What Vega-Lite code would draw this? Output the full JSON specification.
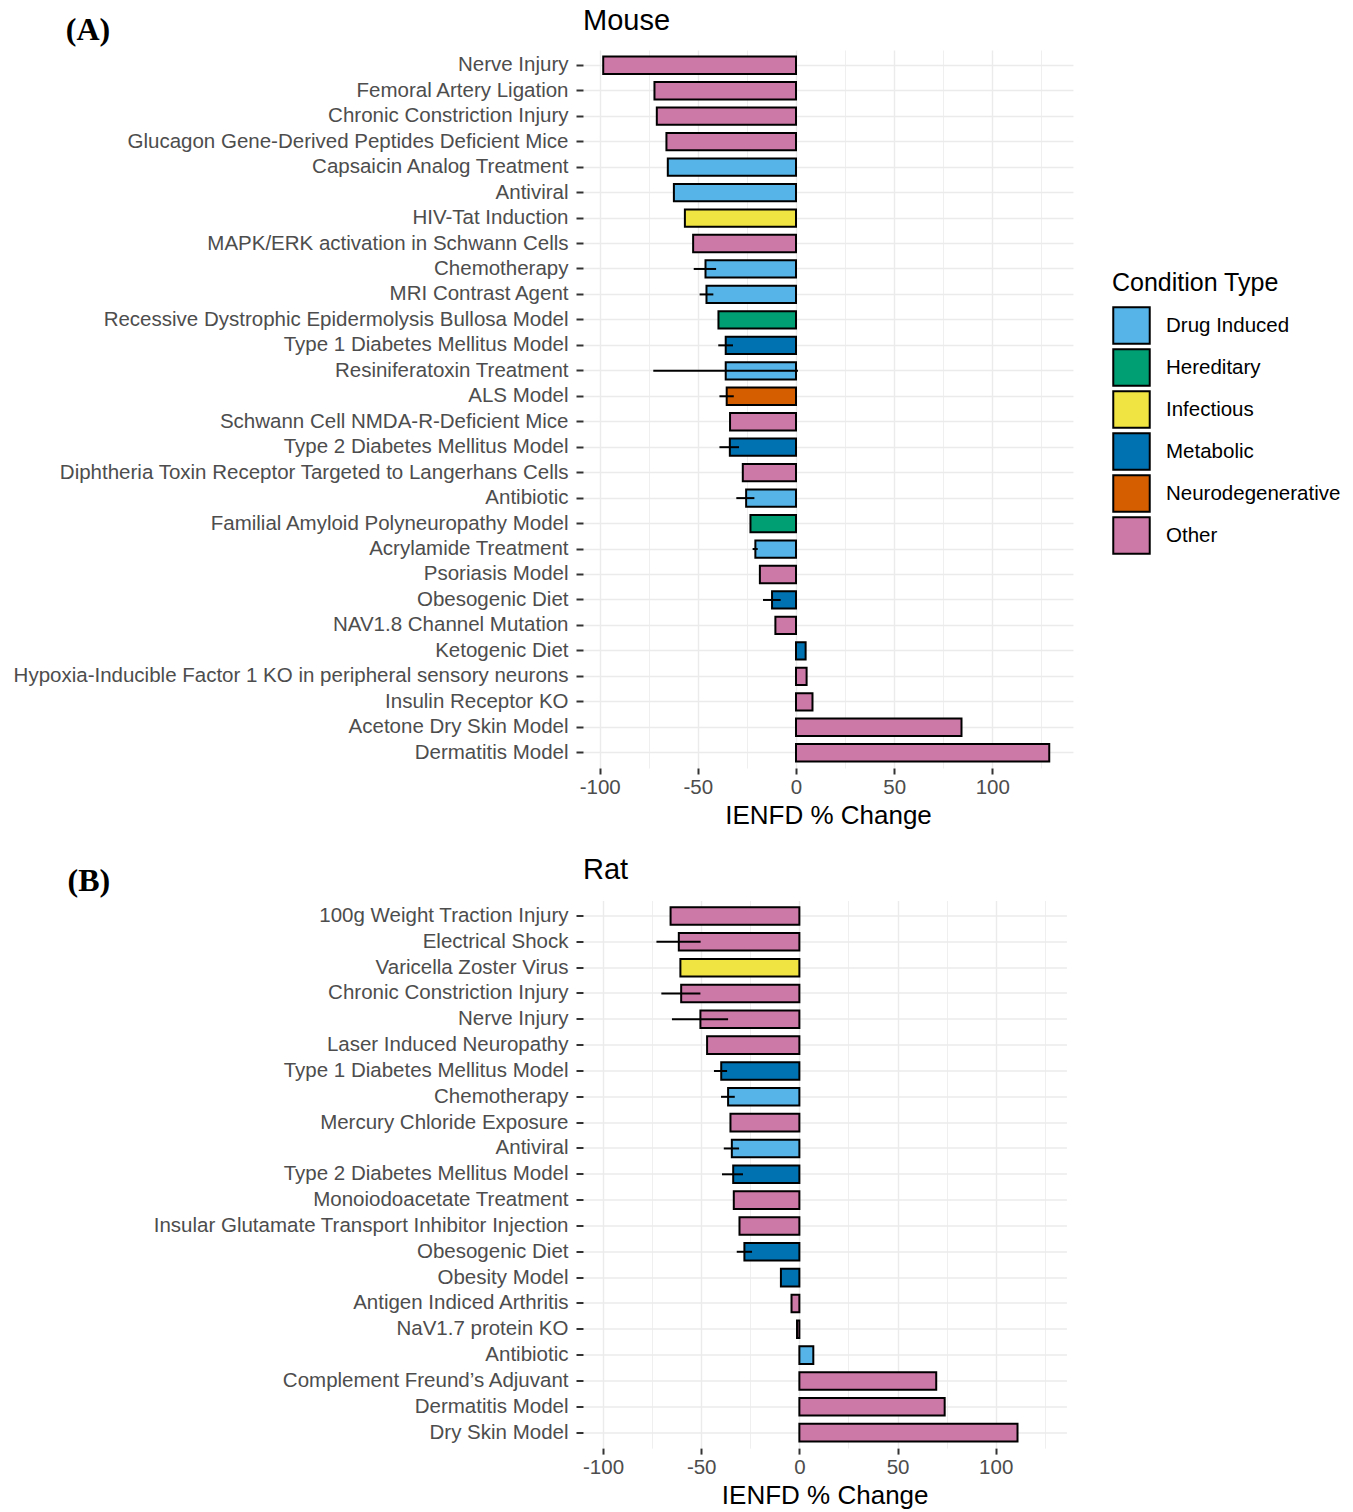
{
  "$schema": "https://vega.github.io/schema/vega-lite/v6.json",
  "padding": {"left": 13, "top": 6, "right": 10, "bottom": 2},
  "background": "white",
  "datasets": {
    "mouse": [
      {"c": "Nerve Injury", "t": "Other", "v": -98.2},
      {"c": "Femoral Artery Ligation", "t": "Other", "v": -72.1},
      {"c": "Chronic Constriction Injury", "t": "Other", "v": -70.9},
      {"c": "Glucagon Gene-Derived Peptides Deficient Mice", "t": "Other", "v": -66.0},
      {"c": "Capsaicin Analog Treatment", "t": "Drug Induced", "v": -65.3},
      {"c": "Antiviral", "t": "Drug Induced", "v": -62.2},
      {"c": "HIV-Tat Induction", "t": "Infectious", "v": -56.6},
      {"c": "MAPK/ERK activation in Schwann Cells", "t": "Other", "v": -52.4},
      {"c": "Chemotherapy", "t": "Drug Induced", "v": -46.1, "lo": -52.1, "hi": -40.7},
      {"c": "MRI Contrast Agent", "t": "Drug Induced", "v": -45.6, "lo": -49.1, "hi": -42.1},
      {"c": "Recessive Dystrophic Epidermolysis Bullosa Model", "t": "Hereditary", "v": -39.5},
      {"c": "Type 1 Diabetes Mellitus Model", "t": "Metabolic", "v": -35.8, "lo": -39.6, "hi": -32.1},
      {"c": "Resiniferatoxin Treatment", "t": "Drug Induced", "v": -35.8, "lo": -72.7, "hi": 1.0},
      {"c": "ALS Model", "t": "Neurodegenerative", "v": -35.3, "lo": -39.0, "hi": -31.7},
      {"c": "Schwann Cell NMDA-R-Deficient Mice", "t": "Other", "v": -33.6},
      {"c": "Type 2 Diabetes Mellitus Model", "t": "Metabolic", "v": -33.7, "lo": -39.0, "hi": -29.0},
      {"c": "Diphtheria Toxin Receptor Targeted to Langerhans Cells", "t": "Other", "v": -27.1},
      {"c": "Antibiotic", "t": "Drug Induced", "v": -25.4, "lo": -30.4, "hi": -21.2},
      {"c": "Familial Amyloid Polyneuropathy Model", "t": "Hereditary", "v": -23.2},
      {"c": "Acrylamide Treatment", "t": "Drug Induced", "v": -20.7, "lo": -22.1, "hi": -19.5},
      {"c": "Psoriasis Model", "t": "Other", "v": -18.4},
      {"c": "Obesogenic Diet", "t": "Metabolic", "v": -12.2, "lo": -16.8, "hi": -7.8},
      {"c": "NAV1.8 Channel Mutation", "t": "Other", "v": -10.5},
      {"c": "Ketogenic Diet", "t": "Metabolic", "v": 4.9},
      {"c": "Hypoxia-Inducible Factor 1 KO in peripheral sensory neurons", "t": "Other", "v": 5.4},
      {"c": "Insulin Receptor KO", "t": "Other", "v": 8.4},
      {"c": "Acetone Dry Skin Model", "t": "Other", "v": 84.3},
      {"c": "Dermatitis Model", "t": "Other", "v": 129.0}
    ],
    "rat": [
      {"c": "100g Weight Traction Injury", "t": "Other", "v": -65.6},
      {"c": "Electrical Shock", "t": "Other", "v": -61.4, "lo": -72.8, "hi": -50.3},
      {"c": "Varicella Zoster Virus", "t": "Infectious", "v": -60.6},
      {"c": "Chronic Constriction Injury", "t": "Other", "v": -60.2, "lo": -70.3, "hi": -50.4},
      {"c": "Nerve Injury", "t": "Other", "v": -50.4, "lo": -64.9, "hi": -36.3},
      {"c": "Laser Induced Neuropathy", "t": "Other", "v": -47.0},
      {"c": "Type 1 Diabetes Mellitus Model", "t": "Metabolic", "v": -39.8, "lo": -43.5, "hi": -36.8},
      {"c": "Chemotherapy", "t": "Drug Induced", "v": -36.3, "lo": -39.9, "hi": -32.9},
      {"c": "Mercury Chloride Exposure", "t": "Other", "v": -35.1},
      {"c": "Antiviral", "t": "Drug Induced", "v": -34.4, "lo": -38.5, "hi": -30.7},
      {"c": "Type 2 Diabetes Mellitus Model", "t": "Metabolic", "v": -33.7, "lo": -39.4, "hi": -28.7},
      {"c": "Monoiodoacetate Treatment", "t": "Other", "v": -33.4},
      {"c": "Insular Glutamate Transport Inhibitor Injection", "t": "Other", "v": -30.5},
      {"c": "Obesogenic Diet", "t": "Metabolic", "v": -28.0, "lo": -31.9, "hi": -24.1},
      {"c": "Obesity Model", "t": "Metabolic", "v": -9.4},
      {"c": "Antigen Indiced Arthritis", "t": "Other", "v": -4.0},
      {"c": "NaV1.7 protein KO", "t": "Other", "v": -1.2},
      {"c": "Antibiotic", "t": "Drug Induced", "v": 7.1},
      {"c": "Complement Freund’s Adjuvant", "t": "Other", "v": 69.7},
      {"c": "Dermatitis Model", "t": "Other", "v": 74.0},
      {"c": "Dry Skin Model", "t": "Other", "v": 111.1}
    ]
  },
  "vconcat": [
    {
      "data": {"name": "mouse"},
      "width": 490,
      "height": 718,
      "title": {"text": "Mouse", "anchor": "start", "frame": "group", "fontSize": 29, "font": "Liberation Sans", "fontWeight": "normal", "color": "black", "baseline": "alphabetic", "offset": -45.1},
      "encoding": {
        "y": {
          "field": "c", "type": "nominal", "sort": null,
          "scale": {"paddingInner": 0.32, "paddingOuter": 0.26},
          "axis": {
            "title": "(A)", "titleFont": "Liberation Serif", "titleFontWeight": "bold", "titleFontSize": 32, "titleColor": "black",
            "titleAngle": 0, "titleAlign": "right", "titleBaseline": "alphabetic", "titleX": -473.3, "titleY": -10.4
          }
        }
      },
      "layer": [
        {
          "mark": {"type": "bar", "stroke": "black", "strokeWidth": 2},
          "encoding": {
            "x": {
              "field": "v", "type": "quantitative",
              "scale": {"domain": [-108.5, 141.1], "nice": false, "zero": false},
              "axis": {
                "title": "IENFD % Change", "titleY": 55,
                "values": [-100, -75, -50, -25, 0, 25, 50, 75, 100, 125],
                "labelExpr": "datum.value % 50 === 0 ? '' + datum.value : ''",
                "labelOverlap": false,
                "gridWidth": {"condition": {"test": "datum.value % 50 !== 0", "value": 0.8}, "value": 1.4},
                "tickColor": {"condition": {"test": "datum.value % 50 !== 0", "value": "transparent"}, "value": "#333333"}
              }
            },
            "color": {
              "field": "t", "type": "nominal",
              "scale": {"domain": ["Drug Induced", "Hereditary", "Infectious", "Metabolic", "Neurodegenerative", "Other"], "range": ["#56B4E9", "#009E73", "#F0E442", "#0072B2", "#D55E00", "#CC79A7"]},
              "legend": {"title": "Condition Type", "orient": "none", "legendX": 529, "legendY": 221}
            }
          }
        },
        {
          "transform": [{"filter": "datum.lo != null"}],
          "mark": {"type": "rule", "color": "black", "strokeWidth": 2},
          "encoding": {"x": {"field": "lo", "type": "quantitative"}, "x2": {"field": "hi"}}
        }
      ]
    },
    {
      "data": {"name": "rat"},
      "width": 483.4,
      "height": 547.6,
      "title": {"text": "Rat", "anchor": "start", "frame": "group", "fontSize": 29, "font": "Liberation Sans", "fontWeight": "normal", "color": "black", "baseline": "alphabetic", "offset": -44.1},
      "encoding": {
        "y": {
          "field": "c", "type": "nominal", "sort": null,
          "scale": {"paddingInner": 0.32, "paddingOuter": 0.26},
          "axis": {
            "title": "(B)", "titleFont": "Liberation Serif", "titleFontWeight": "bold", "titleFontSize": 32, "titleColor": "black",
            "titleAngle": 0, "titleAlign": "right", "titleBaseline": "alphabetic", "titleX": -473.3, "titleY": -10.4
          }
        }
      },
      "layer": [
        {
          "mark": {"type": "bar", "stroke": "black", "strokeWidth": 2},
          "encoding": {
            "x": {
              "field": "v", "type": "quantitative",
              "scale": {"domain": [-110.2, 136.0], "nice": false, "zero": false},
              "axis": {
                "title": "IENFD % Change", "titleY": 55,
                "values": [-100, -75, -50, -25, 0, 25, 50, 75, 100, 125],
                "labelExpr": "datum.value % 50 === 0 ? '' + datum.value : ''",
                "labelOverlap": false,
                "gridWidth": {"condition": {"test": "datum.value % 50 !== 0", "value": 0.8}, "value": 1.4},
                "tickColor": {"condition": {"test": "datum.value % 50 !== 0", "value": "transparent"}, "value": "#333333"}
              }
            },
            "color": {
              "field": "t", "type": "nominal",
              "scale": {"domain": ["Drug Induced", "Hereditary", "Infectious", "Metabolic", "Neurodegenerative", "Other"], "range": ["#56B4E9", "#009E73", "#F0E442", "#0072B2", "#D55E00", "#CC79A7"]},
              "legend": null
            }
          }
        },
        {
          "transform": [{"filter": "datum.lo != null"}],
          "mark": {"type": "rule", "color": "black", "strokeWidth": 2},
          "encoding": {"x": {"field": "lo", "type": "quantitative"}, "x2": {"field": "hi"}}
        }
      ]
    }
  ],
  "spacing": 27.5,
  "resolve": {"scale": {"color": "independent"}},
  "config": {
    "font": "Liberation Sans",
    "view": {"stroke": null},
    "axisX": {
      "domain": false,
      "grid": true,
      "gridColor": "#EBEBEB",
      "tickSize": 6,
      "tickWidth": 2,
      "labelFontSize": 20.5,
      "labelColor": "#4D4D4D",
      "labelPadding": 3.5,
      "labelFlush": false,
      "titleFontSize": 26,
      "titleFontWeight": "normal",
      "titleColor": "black",
      "titleBaseline": "alphabetic"
    },
    "axisY": {
      "domain": false,
      "grid": true,
      "gridColor": "#EBEBEB",
      "gridWidth": 1.4,
      "bandPosition": 0.5,
      "tickColor": "#333333",
      "tickSize": 7,
      "tickWidth": 2,
      "labelFontSize": 20.5,
      "labelColor": "#4D4D4D",
      "labelPadding": 8,
      "labelLimit": 0
    },
    "legend": {
      "titleFontSize": 25,
      "titleFontWeight": "normal",
      "titleColor": "black",
      "titlePadding": 10,
      "labelFontSize": 20.5,
      "labelColor": "black",
      "labelLimit": 0,
      "labelOffset": 15,
      "symbolType": "square",
      "symbolSize": 1330,
      "symbolStrokeColor": "black",
      "symbolStrokeWidth": 2,
      "symbolOpacity": 1,
      "rowPadding": -8,
      "padding": 0
    }
  }
}
